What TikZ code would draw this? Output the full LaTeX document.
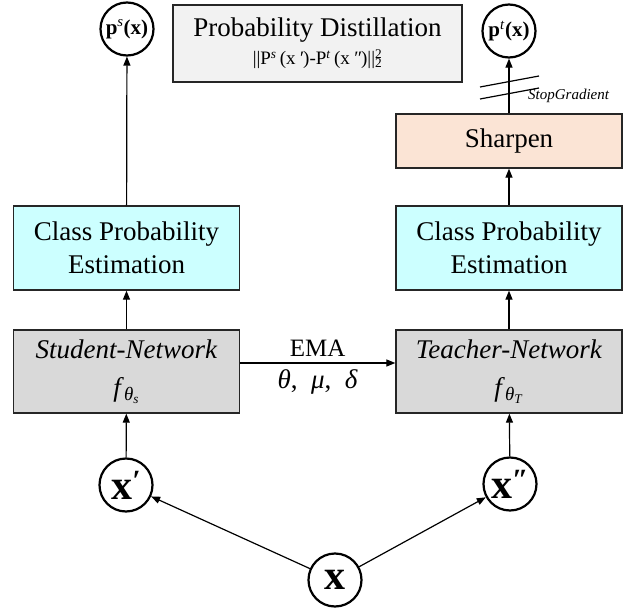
\documentclass[tikz,border=0pt]{standalone}
\usepackage{fontspec}
\setmainfont{Liberation Serif}
\usetikzlibrary{arrows.meta}
\definecolor{cpe}{HTML}{CCFFFF}
\definecolor{net}{HTML}{D9D9D9}
\definecolor{pd}{HTML}{F2F2F2}
\definecolor{sharp}{HTML}{FBE4D5}
\begin{document}
\begin{tikzpicture}[x=1pt,y=-1pt,
  box/.style={draw=black!85, line width=1.3pt, minimum width=226pt, align=center, inner sep=2pt},
  big/.style={font=\fontsize{27}{33}\selectfont},
  circ/.style={circle, draw=black, line width=2.2pt, minimum size=53pt, inner sep=0pt, fill=white},
  arr/.style={-{Triangle[length=9pt,width=7pt]}, line width=1.2pt},
  plain/.style={line width=1.2pt}]
\useasboundingbox (0,0) rectangle (641,608);
% top circles
\node[circ, font=\fontsize{21}{24}\selectfont] (ps) at (127,29) {\textbf{p}\textsuperscript{\textit{s}}\textbf{(x)}};
\node[circ, font=\fontsize{21}{24}\selectfont] (pt) at (509,31) {\textbf{p}\textsuperscript{\textit{t}}\textbf{(x)}};
% probability distillation
\node[box, fill=pd, minimum width=289pt, minimum height=77pt, font=\fontsize{27}{30}\selectfont] (pdist) at (317.5,43.5)
  {Probability Distillation\\[-2pt]
   {\fontsize{19}{22}\selectfont ||P\textsuperscript{\textit{s}}\,(x\,\textit{\char"2032})-P\textsuperscript{\textit{t}}\,(x\,\textit{\char"2033})||\makebox[0pt][l]{\textsuperscript{2}}\textsubscript{2}}};
% sharpen
\node[box, fill=sharp, minimum height=54pt, big] (sh) at (509,141) {Sharpen};
% class probability estimation
\node[box, fill=cpe, minimum height=84pt, big] (cpl) at (126.5,248) {Class Probability\\Estimation};
\node[box, fill=cpe, minimum height=84pt, big] (cpr) at (509,248) {Class Probability\\Estimation};
% networks
\node[box, fill=net, minimum height=83pt, font=\fontsize{27}{30}\selectfont] (sn) at (126.5,371.5)
  {\textit{Student-Network}\\[8pt]\textit{f}\textsubscript{\textit{θ}\textsubscript{\textit{s}}}};
\node[box, fill=net, minimum height=83pt, font=\fontsize{27}{30}\selectfont] (tn) at (509,371.5)
  {\textit{Teacher-Network}\\[8pt]\textit{f}\textsubscript{\textit{θ}\textsubscript{\textit{T}}}};
% inputs
\node[circ, font=\fontsize{42}{44}\selectfont\bfseries] (xp) at (126,485) {x\textsuperscript{\textit{\char"2032}}};
\node[circ, font=\fontsize{42}{44}\selectfont\bfseries] (xpp) at (510,484) {x\textsuperscript{\textit{\char"2033}}};
\node[circ, font=\fontsize{42}{44}\selectfont\bfseries] (x) at (335,580) {x};
% connectors
\draw[arr] (x) -- (xp);
\draw[arr] (x) -- (xpp);
\draw[arr] (xp) -- (sn);
\draw[arr] (xpp) -- (tn);
\draw[arr] (sn) -- (cpl);
\draw[arr] (tn) -- (cpr);
\draw[arr] (cpl) -- (ps);
\draw[arr] (cpr) -- (sh);
\draw[arr] (sh) -- (pt);
\draw[arr] (sn.east |- 0,363) -- node[above=3pt, font=\fontsize{25}{28}\selectfont] {EMA}
  node[below=3pt, font=\fontsize{27}{30}\selectfont] {\textit{θ},\ \ \textit{μ},\ \ \textit{δ}} (tn.west |- 0,363);
% stop gradient
\coordinate (s1a) at (480,87); \coordinate (s1b) at (539,76);
\coordinate (s2a) at (480,99); \coordinate (s2b) at (539,88);
\draw[plain] (s1a) -- (s1b);
\draw[plain] (s2a) -- (s2b);
\node[font=\fontsize{15}{17}\selectfont\itshape, anchor=west, inner sep=1pt] (sg) at (527,96) {StopGradient};
\end{tikzpicture}
\end{document}
